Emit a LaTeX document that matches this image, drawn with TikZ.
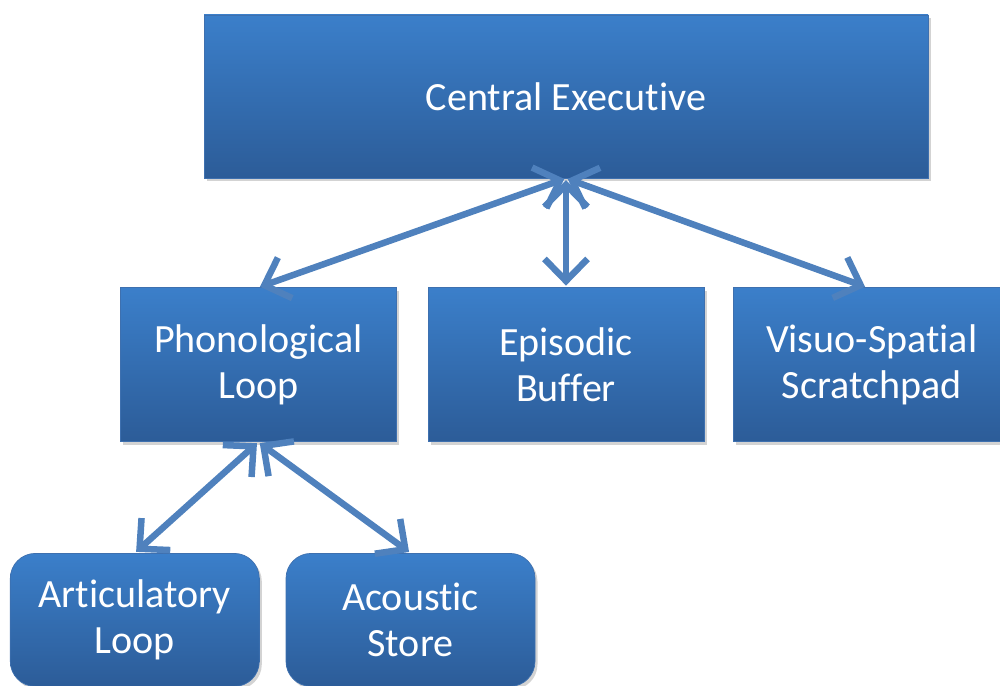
\documentclass[tikz,border=0pt]{standalone}
\usepackage{fontspec}
\setmainfont[Ligatures={NoCommon,NoRequired,NoContextual,NoRare}, RawFeature={-liga;-clig;-calt}]{Carlito}
\usepackage{tikz}
\usepackage{xcolor}
\usetikzlibrary{arrows.meta,positioning,shadows}

\definecolor{boxtop}{RGB}{59,127,202}
\definecolor{boxbottom}{RGB}{44,92,152}
\definecolor{boxedge}{RGB}{62,112,175}
\definecolor{linkblue}{RGB}{79,129,189}

\begin{document}
\begin{tikzpicture}[
    box/.style={rectangle, draw=boxedge, line width=0.4pt, top color=boxtop, bottom color=boxbottom, text=white, align=center, inner sep=0pt, font=\fontsize{22.8}{26.5}\selectfont, drop shadow={opacity=0.35, shadow xshift=0.05cm, shadow yshift=-0.06cm}},
    topbox/.style={box, minimum width=14.48cm, minimum height=3.26cm},
    midbox/.style={box, minimum width=5.52cm, minimum height=3.08cm},
    lowbox/.style={box, rounded corners=0.5cm, minimum width=4.98cm, minimum height=2.66cm},
    link/.style={{Straight Barb[length=0.44cm,width=0.86cm]}-{Straight Barb[length=0.44cm,width=0.86cm]}, draw=linkblue, line width=0.13cm, shorten <=1pt, shorten >=1pt}
]
\useasboundingbox (0,0) rectangle (20,-13.72);

% Central component
\node[topbox] (central) at (11.32,-1.93) {Central Executive};

% Slave systems
\node[midbox, below=2.18cm of central] (buffer) {Episodic\\Buffer};
\node[midbox, left=0.62cm of buffer] (phono) {Phonological\\Loop};
\node[midbox, right=0.58cm of buffer] (visuo) {Visuo-Spatial\\Scratchpad};

% Parts of the phonological loop
\node[lowbox, below=2.18cm of phono, xshift=-2.47cm, yshift=-0.04cm] (artic) {Articulatory\\Loop};
\node[lowbox, right=0.52cm of artic] (acoustic) {Acoustic\\Store};

% Connections
\draw[link] (central.south) -- (phono.north);
\draw[link] (central.south) -- (buffer.north);
\draw[link] (central.south) -- ([xshift=-0.1cm]visuo.north);
\draw[link] (phono.south) -- (artic.north);
\draw[link] (phono.south) -- (acoustic.north);

\end{tikzpicture}
\end{document}
